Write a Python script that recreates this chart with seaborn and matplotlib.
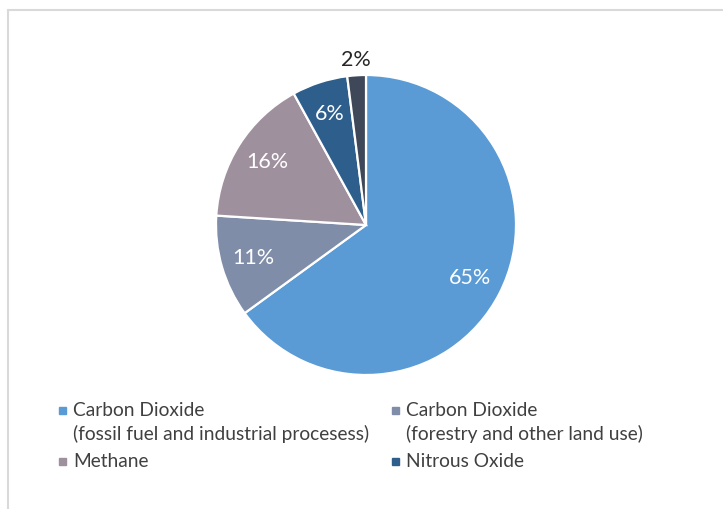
import matplotlib
matplotlib.use("Agg")
import seaborn as sns
import matplotlib.pyplot as plt
from matplotlib.patches import Rectangle
from matplotlib.lines import Line2D

sns.set_theme(style="white")
plt.rcParams['font.family'] = ['Lato', 'DejaVu Sans']

# data
gases = [
    "Carbon Dioxide\n(fossil fuel and industrial procesess)",
    "Carbon Dioxide\n(forestry and other land use)",
    "Methane",
    "Nitrous Oxide",
    "Fluorinated gases",
]
shares = [65, 11, 16, 6, 2]
colors = ["#5B9BD5", "#7F8DA8", "#9F909E", "#2E5E8C", "#3E4859"]
label_colors = ["white", "white", "white", "white", "#262626"]
legend_count = 4

W, H = 723, 509
fig = plt.figure(figsize=(W / 100, H / 100), dpi=100)

# pie axes: center (366, 225), radius 150 px
cx, cy, r = 366, 225, 150
ax = fig.add_axes([(cx - r) / W, (H - cy - r) / H, 2 * r / W, 2 * r / H])
wedges, texts, autotexts = ax.pie(
    shares, colors=colors, startangle=90, counterclock=False,
    autopct="%d%%", pctdistance=0.78,
    wedgeprops=dict(edgecolor="white", linewidth=1.6),
    textprops=dict(fontsize=15.5),
)
for t, c in zip(autotexts, label_colors):
    t.set_color(c)
# small slice label sits outside the pie
x, y = autotexts[-1].get_position()
autotexts[-1].set_position((x / 0.78 * 1.1, y / 0.78 * 1.1))
ax.set_xlim(-1, 1)
ax.set_ylim(-1, 1)
ax.axis("off")

# legend, two columns, row-major
col_x = [62, 395]
row_y = [410, 461]
for i in range(legend_count):
    px = col_x[i % 2]
    py = row_y[i // 2]
    fig.patches.append(Rectangle(((px - 3) / W, (H - py - 4) / H), 7 / W, 7 / H,
                                 transform=fig.transFigure, color=colors[i]))
    fig.text((px + 11) / W, (H - py + 8) / H, gases[i], fontsize=13.8,
             color="#404040", va="top", ha="left", linespacing=1.4,
             transform=fig.transFigure)

# chart area border
border = "#D9D9D9"
fig.add_artist(Line2D([8 / W, 1], [(H - 10) / H] * 2, color=border, lw=1.5))
fig.add_artist(Line2D([8 / W] * 2, [0, (H - 10) / H], color=border, lw=1.5))

fig.savefig("out.png", dpi=100)
